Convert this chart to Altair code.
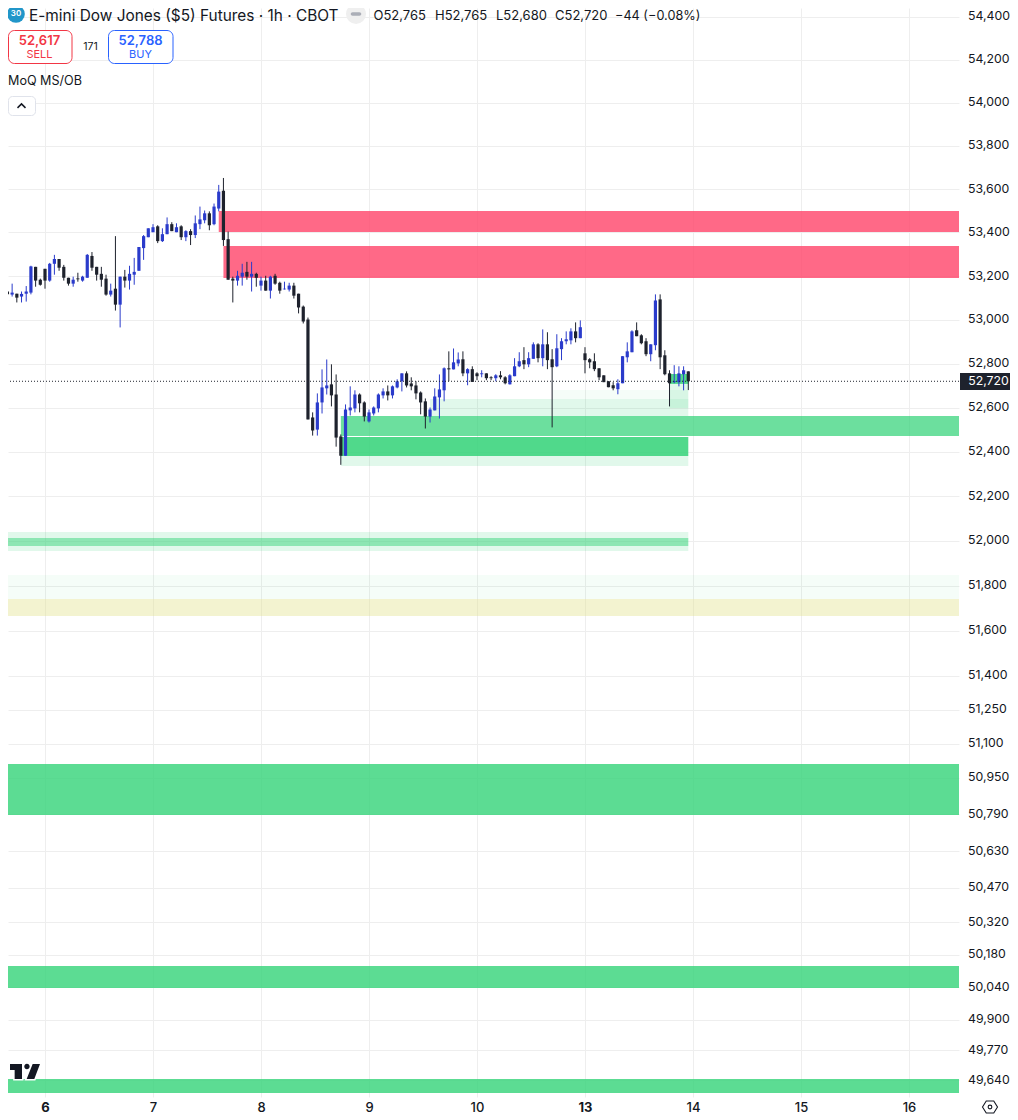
import altair as alt
import pandas as pd

highs = [53232,53165,53165,53119,53129,53154,53247,53242,53188,53233,
53260,53297,53278,53251,53192,53197,53215,53201,53301,53310,
53242,53242,53206,53165,53383,53197,53228,53247,53283,53333,
53388,53419,53438,53433,53419,53469,53447,53442,53433,53410,
53415,53478,53519,53501,53497,53533,53619,53651,53404,53197,
53224,53256,53265,53265,53215,53197,53201,53201,53210,53174,
53174,53169,53169,53119,53065,53010,52579,52665,52774,52819,
52797,52751,52479,52615,52697,52679,52665,52629,52592,52606,
52665,52688,52701,52701,52729,52756,52765,52738,52720,52674,
52642,52601,52688,52751,52783,52856,52869,52851,52856,52779,
52788,52761,52770,52756,52743,52752,52766,52743,52752,52825,
52852,52875,52852,52897,52893,52956,52943,52866,52934,52916,
52947,52961,52988,52997,52875,52825,52847,52779,52747,52720,
52716,52729,52834,52897,52952,52988,52934,52916,52888,53116,
53116,52861,52770,52793,52788,52788,52765]
opens = [53228,53129,53115,53119,53106,53119,53124,53242,53183,53233,
53179,53256,53278,53242,53192,53165,53189,53179,53192,53292,
53242,53210,53188,53115,53142,53069,53197,53179,53206,53224,
53328,53378,53401,53428,53360,53392,53438,53401,53428,53378,
53406,53388,53438,53456,53488,53438,53510,53592,53369,53188,
53179,53197,53219,53197,53210,53156,53179,53133,53201,53169,
53139,53138,53156,53119,53060,53001,52556,52501,52624,52688,
52706,52660,52470,52383,52588,52597,52660,52624,52538,52574,
52597,52656,52674,52656,52692,52720,52756,52710,52701,52669,
52629,52560,52588,52647,52679,52779,52774,52801,52820,52756,
52775,52756,52752,52756,52738,52734,52747,52738,52706,52743,
52788,52816,52797,52822,52888,52825,52888,52820,52788,52866,
52902,52906,52947,52916,52847,52820,52811,52779,52747,52720,
52702,52684,52711,52829,52852,52952,52929,52902,52843,52884,
53093,52838,52756,52716,52716,52752,52765]
closes = [53125,53116,53124,53101,53118,53129,53244,53179,53160,53179,
53256,53278,53238,53192,53165,53183,53185,53197,53297,53238,
53206,53183,53115,53133,53069,53197,53179,53210,53219,53333,
53383,53419,53424,53360,53392,53438,53406,53424,53378,53406,
53388,53442,53460,53488,53433,53519,53588,53365,53183,53179,
53201,53215,53197,53210,53192,53179,53133,53197,53165,53133,
53142,53156,53110,53056,52992,52547,52497,52624,52692,52701,
52656,52465,52383,52592,52601,52660,52620,52560,52579,52601,
52660,52674,52656,52697,52720,52756,52701,52697,52665,52624,
52560,52592,52651,52683,52779,52774,52806,52819,52756,52775,
52717,52743,52756,52734,52734,52747,52738,52711,52747,52788,
52811,52797,52825,52888,52825,52888,52816,52784,52870,52902,
52911,52947,52916,52966,52816,52806,52775,52738,52716,52693,
52688,52711,52834,52856,52947,52925,52893,52843,52888,53088,
52829,52752,52711,52720,52756,52770,52720]
lows = [53125,53116,53106,53079,53079,53083,53116,53151,53156,53142,
53174,53206,53224,53179,53156,53151,53174,53174,53192,53224,
53179,53151,53110,53106,53042,52965,53147,53138,53160,53224,
53274,53378,53401,53351,53356,53392,53406,53401,53365,53360,
53342,53374,53415,53442,53410,53433,53497,53338,53183,53079,
53156,53156,53183,53129,53151,53133,53133,53097,53160,53119,
53138,53129,53097,53029,52983,52547,52474,52474,52574,52660,
52606,52424,52342,52383,52565,52579,52579,52538,52533,52565,
52579,52642,52633,52642,52688,52674,52692,52679,52638,52570,
52506,52533,52588,52551,52629,52720,52774,52788,52743,52702,
52717,52725,52738,52725,52725,52720,52729,52706,52706,52743,
52784,52775,52784,52822,52806,52788,52775,52511,52784,52816,
52888,52888,52897,52916,52756,52779,52766,52725,52716,52693,
52679,52661,52711,52806,52852,52925,52888,52834,52811,52861,
52775,52747,52606,52711,52697,52679,52680]
bar_index = list(range(-9, 138))

price_ticks = [54400,54200,54000,53800,53600,53400,53200,53000,52800,52600,52400,52200,52000,
               51800,51600,51400,51250,51100,50950,50790,50630,50470,50320,50180,50040,49900,49770,49640]
day_ticks = [0,23,46,69,92,115,138,161,184]
day_labels = ["6","7","8","9","10","13","14","15","16"]

zone_start = [37,38,-10,-10,-10,-10,-10,-10,-10,-10,63,63,63,82,108,133,133,133]
zone_end   = [195,195,195,195,195,137,137,137,195,195,195,137,137,137,137,137,137,137]
zone_top   = [53499,53338,51011,50131,49646,52040,51978,52013,51848,51741,52563,52468,52382,52640,52680,52708,52753,52640]
zone_bot   = [53402,53191,50787,50036,49586,52013,51955,51978,51741,51665,52472,52382,52337,52563,52640,52640,52708,52599]
zone_kind  = ["supply","supply","demand","demand","demand","soft","soft","mid","faint","neutral",
              "wide","strong","soft","soft","faint","soft","strong","soft"]
kind_names  = ["supply","demand","wide","strong","mid","soft","faint","neutral"]
kind_colors = ["rgba(255,72,109,0.82)","rgba(51,211,120,0.80)","rgba(51,211,120,0.72)","rgba(51,211,120,0.86)",
               "rgba(51,211,120,0.56)","rgba(51,211,120,0.15)","rgba(51,211,120,0.05)",
               "rgba(225,225,137,0.40)"]

last_price = 52720
tag_high, tag_low = 52758, 52680

df = pd.DataFrame({"i":bar_index,"o":opens,"h":highs,"l":lows,"c":closes})
df["dir"] = ["up" if c >= o else "down" for o, c in zip(opens, closes)]
zones = pd.DataFrame({"a":zone_start,"b":zone_end,"t":zone_top,"u":zone_bot,"k":zone_kind})

XD = [-7.88, 194.65]
YD = [49569, 54442]
BLUE, DARK = "#2A3BCB", "#1E222D"
FONT = "Inter"
GRID = "#EEEEEE"

label_arr = "[" + ",".join(f"'{d}'" for d in day_labels) + "]"
x_axis = alt.Axis(values=day_ticks, labelExpr=f"{label_arr}[datum.value/23]", title=None, grid=True,
                  gridColor=GRID, domain=False, ticks=False, labelFont=FONT, labelFontSize=13,
                  labelColor="#131722", labelPadding=4, labelFlush=False, labelOverlap=False,
                  labelFontWeight={"condition":{"test":"datum.value==0||datum.value==115","value":700},"value":500})
y_axis = alt.Axis(values=price_ticks, format=",", orient="right", title=None, grid=True, gridColor=GRID,
                  domain=False, ticks=False, labelFont=FONT, labelFontSize=12.3, labelColor="#131722",
                  labelPadding=8.5, labelOverlap=False, labelOffset=-1)
xs = alt.Scale(domain=XD, nice=False, zero=False)
ys = alt.Scale(type="log", domain=YD, nice=False, zero=False)
X = lambda f: alt.X(f, type="quantitative", scale=xs, axis=x_axis)
Y = lambda f: alt.Y(f, type="quantitative", scale=ys, axis=y_axis)

zone_layer = alt.Chart(zones).mark_rect(clip=True).encode(
    x=X("a"), x2="b", y=Y("t"), y2="u",
    fill=alt.Fill("k:N", scale=alt.Scale(domain=kind_names, range=kind_colors), legend=None))
dir_color = alt.Color("dir:N", scale=alt.Scale(domain=["up","down"], range=[BLUE, DARK]), legend=None)
wicks = alt.Chart(df).mark_rule(strokeWidth=1, clip=True).encode(x=X("i"), y=Y("h"), y2="l", color=dir_color)
bodies = alt.Chart(df).mark_rule(strokeWidth=3.2, clip=True).encode(x=X("i"), y=Y("o"), y2="c", color=dir_color)
last_line = alt.Chart(pd.DataFrame({"p":[last_price]})).mark_rule(color=DARK, strokeWidth=1, strokeDash=[1,2]).encode(y=Y("p"))
tag_df = pd.DataFrame({"p":[last_price],"top":[tag_high],"bot":[tag_low]})
tag_rect = alt.Chart(tag_df).mark_rect(fill=DARK, cornerRadiusTopRight=3, cornerRadiusBottomRight=3).encode(
    x=alt.value(952), x2=alt.value(1007), y=Y("top"), y2="bot")
tag_text = alt.Chart(tag_df).mark_text(font=FONT, fontSize=12.3, color="white").encode(
    x=alt.value(980.5), y=Y("p"), text=alt.Text("p:Q", format=","))

one = alt.Data(values=[{"a":1}])
def txt(s, px, py, size=13, color="#131722", align="left", weight=400):
    return alt.Chart(one).mark_text(text=s, font=FONT, fontSize=size, color=color, align=align,
                                    baseline="middle", fontWeight=weight).encode(
        x=alt.value(px-8), y=alt.value(py-8))
def box(x1, y1, x2, y2, stroke, r):
    return alt.Chart(one).mark_rect(fill="white", stroke=stroke, strokeWidth=1, cornerRadius=r).encode(
        x=alt.value(x1-8), x2=alt.value(x2-8), y=alt.value(y1-8), y2=alt.value(y2-8))
def pt(shape, px, py, size, **kw):
    return alt.Chart(one).mark_point(shape=shape, size=size, opacity=1, **kw).encode(
        x=alt.value(px-8), y=alt.value(py-8))

LOGO = ("M-1,-.5L-.2,-.5L-.2,.5L-.69,.5L-.69,-.1L-1,-.1Z"
        "M-.05,-.33a.18,.18 0 1,0 .36,0a.18,.18 0 1,0 -.36,0Z"
        "M.51,-.5L1,-.5L.62,.5L.11,.5Z")
HEX = "M-1,0L-.5,-.8L.5,-.8L1,0L.5,.8L-.5,.8Z"
CHEV = "M-1,.6L0,-.4L1,.6"
PILL = "M-.7,-.35L.7,-.35A.35,.35 0 0 1 .7,.35L-.7,.35A.35,.35 0 0 1 -.7,-.35Z"

RED2, BLUE2 = "#F23645", "#2962FF"
extras = [
    pt("circle",16,14,310,filled=True,color="#2196C9"),
    txt("30",16,14,8,"white","center",600),
    txt("E-mini Dow Jones ($5) Futures · 1h · CBOT",29,15.8,15.4),
    pt("circle",356,14,400,filled=True,color="#EFEFEF"),
    pt(PILL,356,14,100,filled=True,color="#ABAEB7"),
    txt("O52,765",373.5,15.5,13), txt("H52,765",435,15.5,13), txt("L52,680",496,15.5,13),
    txt("C52,720",555,15.5,13), txt("−44 (−0.08%)",615,15.5,12.7),
    box(8.5,30.5,72,63.5,RED2,6),
    txt("52,617",39.5,40.5,13,RED2,"center",600), txt("SELL",39.5,54.5,11,RED2,"center"),
    txt("171",90.5,47,10.5,"#131722","center"),
    box(108.5,30.5,173,63.5,BLUE2,6),
    txt("52,788",140.5,40.5,13,BLUE2,"center",600), txt("BUY",140.5,54.5,11,BLUE2,"center"),
    txt("MoQ MS/OB",8,81,12.6),
    box(8.5,96.5,35.5,115.5,"#E0E3EB",4),
    pt(CHEV,21.5,105.5,64,filled=False,color="#131722",strokeWidth=1.5),
    pt(LOGO,25,1071.5,900,filled=True,color="white",stroke="white",strokeWidth=3),
    pt(LOGO,25,1071.5,900,filled=True,color="#131722"),
    pt(HEX,990,1107,225,filled=False,color="#131722",strokeWidth=1.1),
    pt("circle",990,1107,14,filled=False,color="#131722",strokeWidth=1.1),
]

chart = alt.layer(zone_layer, wicks, bodies, last_line, tag_rect, tag_text, *extras).properties(
    width=951, height=1089, background="white",
    padding={"left":0,"top":0,"right":51,"bottom":23},
    autosize=alt.AutoSizeParams(type="none")
).configure_view(stroke=None).resolve_scale(color="independent", fill="independent")

chart.save("out.html", embed_options={"renderer": "svg", "actions": False})
